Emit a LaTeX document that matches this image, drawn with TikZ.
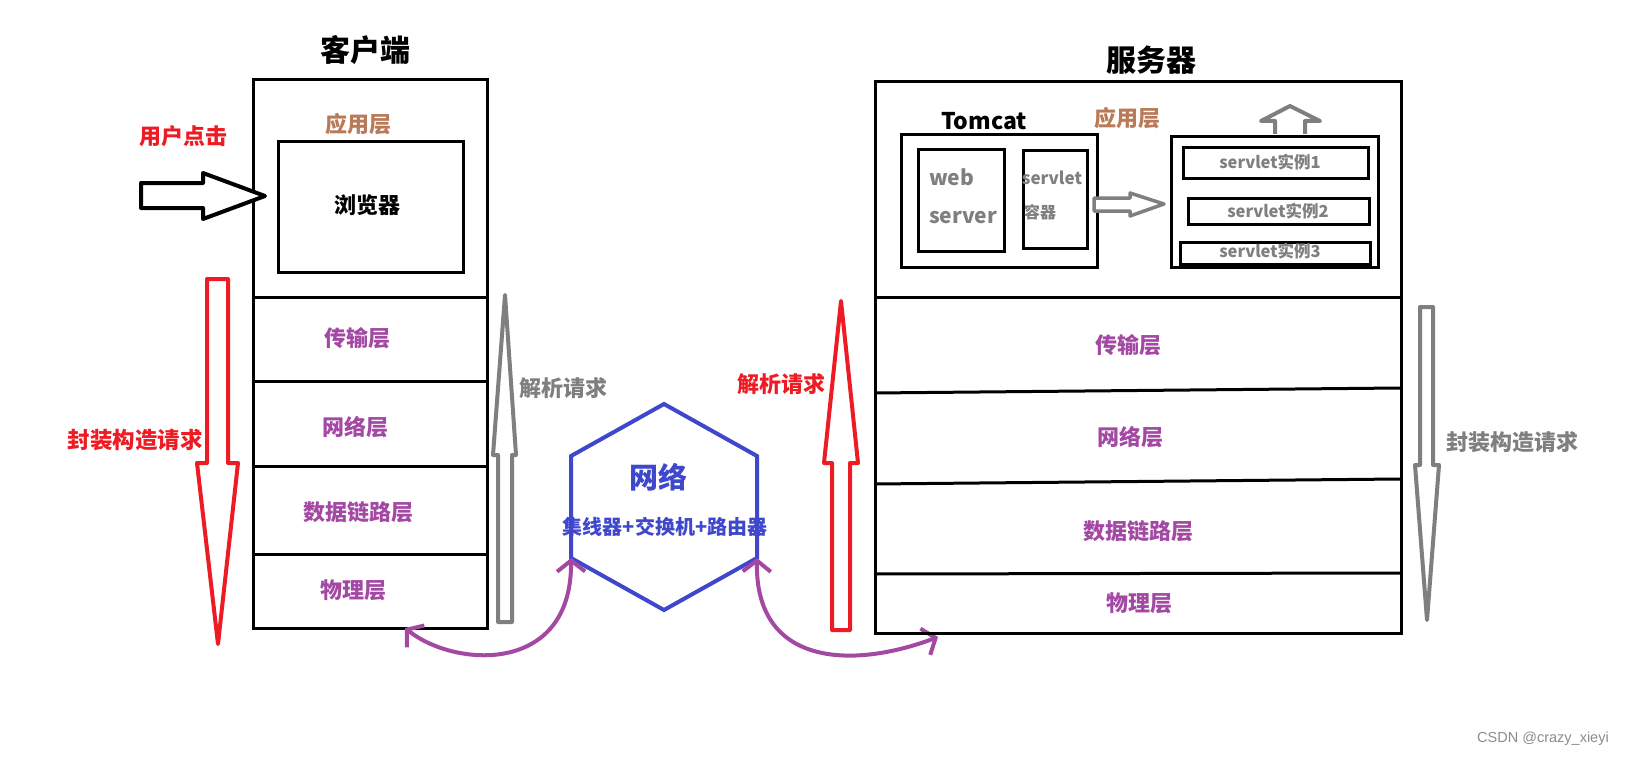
\documentclass[tikz,border=0pt]{standalone}
\usepackage{fontspec}
\setmainfont{Noto Sans CJK SC}
\newfontfamily\wmfont{Liberation Sans}
\usetikzlibrary{arrows.meta}
\definecolor{pred}{HTML}{ED1C24}
\definecolor{pblue}{HTML}{3F48CC}
\definecolor{ppurple}{HTML}{A349A4}
\definecolor{pgray}{HTML}{7F7F7F}
\definecolor{pbrown}{HTML}{B97A57}
\definecolor{wmgray}{HTML}{8C8C8C}
\newcommand\myfs[1]{\fontsize{#1}{#1}\selectfont}
\begin{document}
\begin{tikzpicture}[x=1pt,y=-1pt,
  box/.style={draw, line width=3pt, inner sep=0pt, anchor=north west},
  div/.style={line width=3pt},
  txt/.style={inner sep=0pt, font=\myfs{22}\bfseries},
  title/.style={inner sep=0pt, font=\myfs{30}\bfseries},
  lay/.style={txt, text=ppurple},
  app/.style={txt, text=pbrown},
  hollow/.style={line width=4pt, line join=round, fill=white},
  link/.style={draw=ppurple, line width=4pt, {Straight Barb[length=11pt,width=28pt]}-{Straight Barb[length=11pt,width=28pt]}},
  hex/.style={draw=pblue, line width=4pt, line join=miter}
]
\fill[white] (0,0) rectangle (1627,757);
\useasboundingbox (0,0) rectangle (1627,757);

% ---------- client ----------
\node[title] (ctitle) at (365,50) {客户端};
\node[box, minimum width=234pt, minimum height=549pt] (client) at (252,78) {};
\node[box, minimum width=185pt, minimum height=131pt] (browser) at (277,140) {};
\node[app] (capp) at (358,124) {应用层};
\node[txt] (btxt) at (367,205) {浏览器};
\draw[div] (252,297) -- (489,297);
\draw[div] (252,381) -- (489,381);
\draw[div] (252,466) -- (489,466);
\draw[div] (252,554) -- (489,554);
\node[lay] (c4) at (357,338) {传输层};
\node[lay] (c3) at (355,427) {网络层};
\node[lay] (c2) at (358,512) {数据链路层};
\node[lay] (c1) at (353,590) {物理层};

% user click
\node[txt, text=pred] (click) at (183,136) {用户点击};
\draw[hollow, draw=black] (141,183) -- (203,183) -- (203,173) -- (265,196) -- (203,219) -- (203,208) -- (141,208) -- cycle;

% red down arrow (client)
\draw[hollow, draw=pred] (207,279) -- (228,279) -- (228,463) -- (238,463) -- (218,644) -- (197,463) -- (207,463) -- cycle;
\node[txt, font=\myfs{22.5}\bfseries, text=pred] (cenc) at (135,440) {封装构造请求};

% gray up arrow (client)
\draw[hollow, draw=pgray] (498,622) -- (512,622) -- (512,455) -- (516,455) -- (505,295) -- (493,455) -- (498,455) -- cycle;
\node[txt, text=pgray] (cparse) at (563,388) {解析请求};

% ---------- network ----------
\coordinate (h1) at (664,404);
\coordinate (h2) at (757,456);
\coordinate (h3) at (757,558);
\coordinate (h4) at (664,610);
\coordinate (h5) at (571,558);
\coordinate (h6) at (571,456);
\draw[hex] (h1) -- (h2) -- (h3) -- (h4) -- (h5) -- (h6) -- cycle;
\node[inner sep=0pt, font=\myfs{29}\bfseries, text=pblue] (net) at (658,477) {网络};
\node[inner sep=0pt, font=\myfs{20}\bfseries, text=pblue] (dev) at (665,527) {集线器+交换机+路由器};

\coordinate (pa) at (405,628);
\coordinate (pd) at (938,637);
\draw[link] (pa) .. controls (455,668) and (572,675) .. (h5);
\draw[link] (h3) .. controls (755,665) and (850,670) .. (pd);

% ---------- server ----------
\node[title] (stitle) at (1151,60) {服务器};
\node[box, minimum width=526pt, minimum height=552pt] (server) at (874,80) {};
\draw[div] (874,297) -- (1400,297);
\draw[div] (874,393) -- (1400,388);
\draw[div] (874,484) -- (1400,479);
\draw[div] (874,574) -- (1400,573);
\node[lay] (s4) at (1128,345) {传输层};
\node[lay] (s3) at (1130,437) {网络层};
\node[lay] (s2) at (1138,531) {数据链路层};
\node[lay] (s1) at (1139,603) {物理层};

\node[txt, font=\myfs{23}\bfseries] (tomcat) at (984,121) {Tomcat};
\node[app] (sapp) at (1127,118) {应用层};
\node[box, minimum width=196pt, minimum height=133pt] (tbox) at (900,133) {};
\node[box, minimum width=86pt, minimum height=102pt] (wbox) at (917,148) {};
\node[box, minimum width=64pt, minimum height=98pt] (scbox) at (1022,149) {};
\node[txt, font=\myfs{21}\bfseries, text=pgray, anchor=west] (web1) at (929,177) {web};
\node[txt, font=\myfs{21}\bfseries, text=pgray, anchor=west] (web2) at (929,218) {server};
\node[inner sep=0pt, font=\myfs{17}\bfseries, text=pgray] (sc1) at (1052,178) {servlet};
\node[inner sep=0pt, font=\myfs{16}\bfseries, text=pgray, anchor=west] (sc2) at (1024,212) {容器};

\node[box, minimum width=207pt, minimum height=131pt] (ibox) at (1170,135) {};
\node[box, minimum width=185pt, minimum height=31pt] (i1) at (1182,146) {};
\node[box, minimum width=181pt, minimum height=26pt] (i2) at (1187,197) {};
\node[box, minimum width=190pt, minimum height=22pt] (i3) at (1179,241) {};
\node[inner sep=0pt, font=\myfs{16.5}\bfseries, text=pgray] (i1t) at (1270,162) {servlet实例1};
\node[inner sep=0pt, font=\myfs{16.5}\bfseries, text=pgray] (i2t) at (1278,211) {servlet实例2};
\node[inner sep=0pt, font=\myfs{16.5}\bfseries, text=pgray] (i3t) at (1270,251) {servlet实例3};

% gray right arrow (container -> instances)
\draw[hollow, draw=pgray, line width=3.5pt] (1094,198) -- (1130,198) -- (1130,193) -- (1164,204) -- (1130,216) -- (1130,211) -- (1094,211) -- cycle;
% gray up arrow above instances
\draw[hollow, draw=pgray] (1275,134) -- (1275,121) -- (1261,121) -- (1290,106) -- (1320,121) -- (1305,121) -- (1305,134);

% red up arrow (server)
\draw[hollow, draw=pred] (832,630) -- (850,630) -- (850,463) -- (858,463) -- (841,301) -- (824,463) -- (832,463) -- cycle;
\node[txt, text=pred] (sparse) at (781,384) {解析请求};

% gray down arrow (server)
\draw[hollow, draw=pgray] (1420,307) -- (1433,307) -- (1433,465) -- (1439,465) -- (1427,620) -- (1415,465) -- (1420,465) -- cycle;
\node[txt, text=pgray] (senc) at (1512,442) {封装构造请求};

% watermark
\node[inner sep=0pt, font=\wmfont\myfs{14.5}, text=wmgray] (wm) at (1543,739) {CSDN @crazy\_xieyi};
\end{tikzpicture}
\end{document}
